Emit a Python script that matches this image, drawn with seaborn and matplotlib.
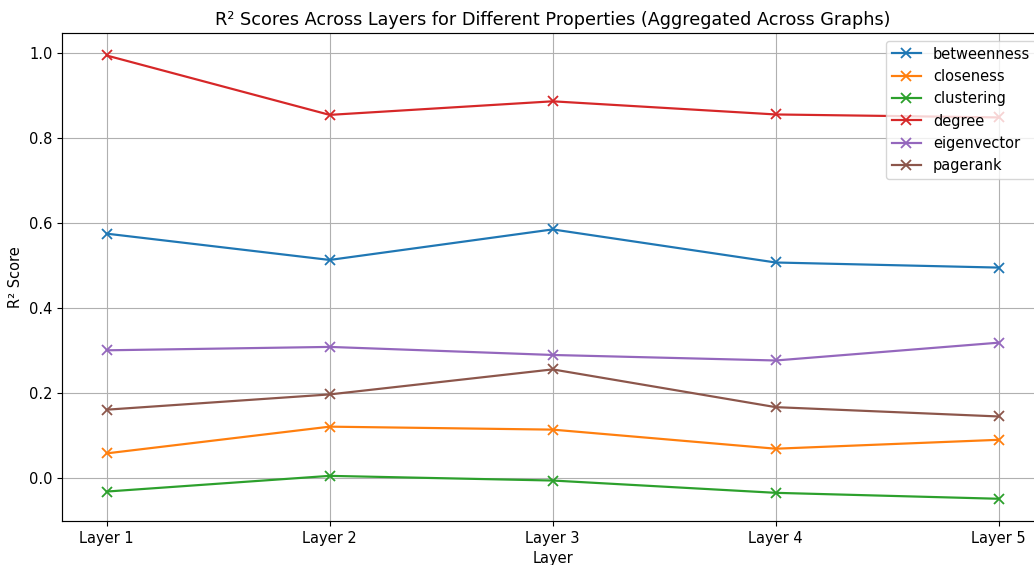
import seaborn as sns
import matplotlib.pyplot as plt

# Waarden per laag
layers = ['Layer 1', 'Layer 2', 'Layer 3', 'Layer 4', 'Layer 5']
betweenness = [0.575, 0.513, 0.585, 0.507, 0.495]
closeness = [0.057, 0.120, 0.113, 0.068, 0.089]
clustering = [-0.033, 0.004, -0.007, -0.036, -0.050]
degree = [0.995, 0.855, 0.887, 0.856, 0.849]
eigenvector = [0.300, 0.308, 0.289, 0.276, 0.318]
pagerank = [0.160, 0.196, 0.255, 0.166, 0.144]

series = {
    'betweenness': betweenness,
    'closeness': closeness,
    'clustering': clustering,
    'degree': degree,
    'eigenvector': eigenvector,
    'pagerank': pagerank,
}

# Iets grotere letters en lijnen dan standaard
plt.rcParams['font.size'] = 10.56
plt.rcParams['lines.linewidth'] = 1.58
plt.rcParams['axes.linewidth'] = 0.85

colors = sns.color_palette('tab10')

fig = plt.figure(figsize=(10.34, 5.65), dpi=100)
ax = fig.add_axes([0.06, 0.078, 0.949, 0.863])

for (name, values), c in zip(series.items(), colors):
    sns.lineplot(x=layers, y=values, label=name, color=c, marker='x',
                 markersize=7.4, markeredgewidth=1.3, markeredgecolor=c,
                 ax=ax, sort=False)

ax.set_title('R² Scores Across Layers for Different Properties (Aggregated Across Graphs)')
ax.set_xlabel('Layer')
ax.set_ylabel('R² Score')
ax.legend(loc='upper right')
ax.grid(True)

fig.savefig('out.png', dpi=100)
